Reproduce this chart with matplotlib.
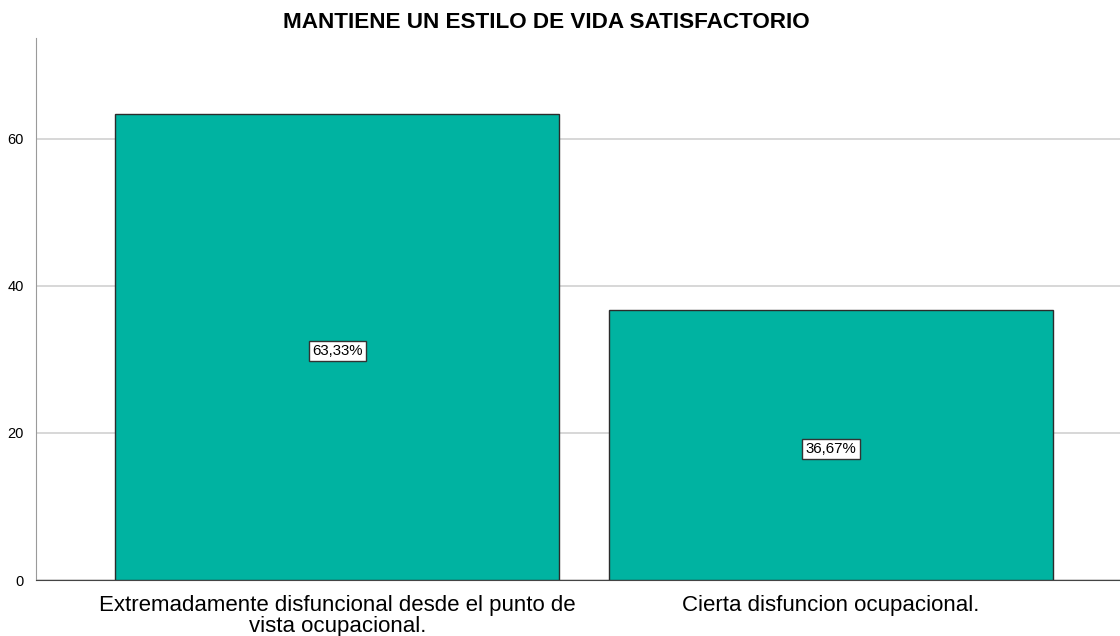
import matplotlib
matplotlib.use("Agg")
import matplotlib.pyplot as plt
import matplotlib.transforms as mtransforms

plt.rcParams['font.family'] = ['Liberation Sans', 'DejaVu Sans']

categories = ["Extremadamente disfuncional desde el punto de\nvista ocupacional.",
              "Cierta disfuncion ocupacional."]
values = [63.33, 36.67]
labels = ["63,33%", "36,67%"]
yticks = [0, 20, 40, 60]
title = "MANTIENE UN ESTILO DE VIDA SATISFACTORIO"

fig = plt.figure(figsize=(11.2, 6.36), dpi=100)
ax = fig.add_axes([36/1120, 1-580/636, (1120-36)/1120, (580-38)/636])

x = list(range(len(categories)))
ax.bar(x, values, width=0.9, color='#00b3a1', edgecolor='#2b2b2b', linewidth=1.0, zorder=3)
off = mtransforms.offset_copy(ax.transData, fig=fig, x=0, y=-4, units='dots')
for xi, v, lab in zip(x, values, labels):
    ax.text(xi, v/2, lab, ha='center', va='center', fontsize=10.8, color='black', zorder=4,
            transform=off,
            bbox=dict(boxstyle='square,pad=0.22', facecolor='white', edgecolor='#333333', linewidth=1.0))

ax.set_xlim(-0.61, 1.585)
ax.set_ylim(0, 73.7)
ax.set_yticks(yticks)
ax.set_yticklabels([str(t) for t in yticks], fontsize=10.5)
ax.set_xticks(x)
ax.set_xticklabels(categories, fontsize=16, linespacing=1.0)
ax.tick_params(axis='x', length=0, pad=11)
ax.tick_params(axis='y', length=0, pad=9)
ax.yaxis.grid(True, color='#d4d4d4', linewidth=1.3, zorder=0)
ax.set_axisbelow(True)
for s in ['top', 'right']:
    ax.spines[s].set_visible(False)
ax.spines['left'].set_color('#9a9a9a')
ax.spines['bottom'].set_color('#444444')
fig.text(546/1120, 1-22.5/636, title, ha='center', va='center', fontsize=16.2, fontweight='bold')

fig.savefig('out.png', dpi=100)
